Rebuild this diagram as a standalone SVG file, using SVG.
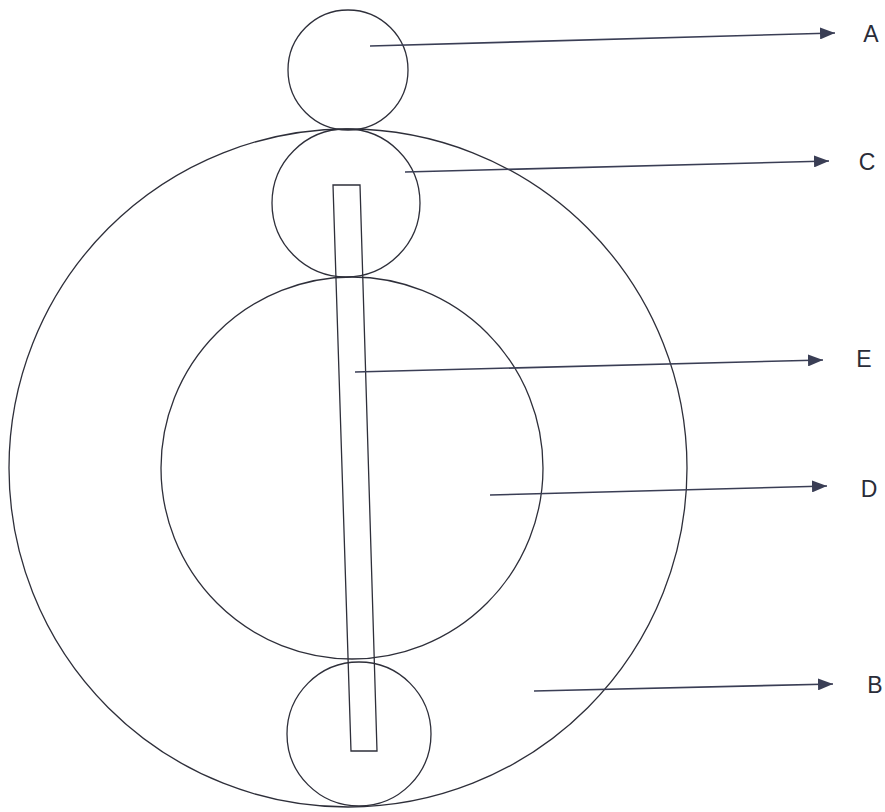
<svg xmlns="http://www.w3.org/2000/svg" width="885" height="812" viewBox="0 0 885 812">
<style>
.shape{fill:none;stroke:#2e2f3a;stroke-width:1.3}
.conn{stroke:#3a3e55;stroke-width:1.6;fill:none}
.lbl{font-family:"Liberation Sans",Arial,sans-serif;font-size:23px;fill:#2a2c38;text-anchor:middle}
</style>
<defs>
<marker id="ah" viewBox="0 0 15 12" refX="15" refY="6" markerWidth="15" markerHeight="12" markerUnits="userSpaceOnUse" orient="auto">
<path d="M0,0 L15,6 L0,12 Z" fill="#3a3e55"/>
</marker>
</defs>
<rect width="885" height="812" fill="#ffffff"/>
<g id="B"><circle class="shape" cx="348" cy="468" r="339"/></g>
<g id="A"><circle class="shape" cx="348" cy="70" r="60"/></g>
<g id="C"><circle class="shape" cx="346" cy="203" r="74"/></g>
<g id="D"><circle class="shape" cx="352" cy="468" r="191"/></g>
<g id="bottom-circle"><circle class="shape" cx="359" cy="734" r="72"/></g>
<g id="E"><polygon class="shape" points="333,185 360,185 377,751 351,751"/></g>
<g id="connectors">
<line class="conn" x1="370" y1="46" x2="835" y2="33" marker-end="url(#ah)"/>
<line class="conn" x1="405" y1="172" x2="829" y2="161" marker-end="url(#ah)"/>
<line class="conn" x1="355" y1="372" x2="823" y2="360" marker-end="url(#ah)"/>
<line class="conn" x1="490" y1="495" x2="827" y2="486" marker-end="url(#ah)"/>
<line class="conn" x1="534" y1="691" x2="833" y2="684" marker-end="url(#ah)"/>
</g>
<g id="labels">
<text class="lbl" x="871" y="42">A</text>
<text class="lbl" x="867" y="170">C</text>
<text class="lbl" x="864" y="367">E</text>
<text class="lbl" x="869" y="497">D</text>
<text class="lbl" x="875" y="693">B</text>
</g>
</svg>
